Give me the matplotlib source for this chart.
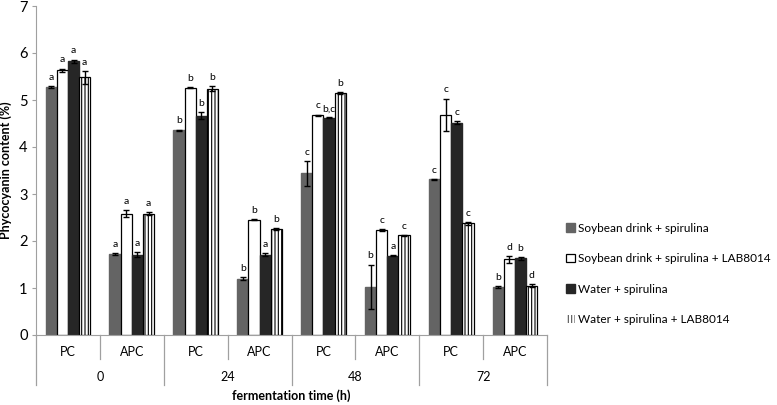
import matplotlib
matplotlib.use("Agg")
import matplotlib.pyplot as plt
import numpy as np
from matplotlib.patches import Patch

plt.rcParams['font.family'] = ['Lato', 'DejaVu Sans']
plt.rcParams['hatch.linewidth'] = 0.8

sub_labels = ['PC', 'APC', 'PC', 'APC', 'PC', 'APC', 'PC', 'APC']
time_labels = ['0', '24', '48', '72']
series_names = ['Soybean drink + spirulina',
                'Soybean drink + spirulina + LAB8014',
                'Water + spirulina',
                'Water + spirulina + LAB8014']

sdk = [5.27, 1.72, 4.36, 1.20, 3.44, 1.03, 3.31, 1.02]
sdk_err = [0.02, 0.02, 0.01, 0.03, 0.26, 0.47, 0.01, 0.02]
sdk_lab = ['a', 'a', 'b', 'b', 'c', 'b', 'c', 'b']
sdl = [5.63, 2.58, 5.26, 2.45, 4.68, 2.23, 4.69, 1.61]
sdl_err = [0.04, 0.07, 0.01, 0.01, 0.01, 0.02, 0.34, 0.07]
sdl_lab = ['a', 'a', 'b', 'b', 'c', 'c', 'c', 'd']
ws = [5.82, 1.71, 4.67, 1.71, 4.62, 1.69, 4.52, 1.63]
ws_err = [0.04, 0.05, 0.08, 0.03, 0.01, 0.01, 0.04, 0.03]
ws_lab = ['a', 'a', 'b', 'a', 'b,c', 'a', 'c', 'b']
wsl = [5.48, 2.58, 5.24, 2.26, 5.14, 2.12, 2.38, 1.05]
wsl_err = [0.14, 0.03, 0.05, 0.02, 0.02, 0.01, 0.03, 0.03]
wsl_lab = ['a', 'a', 'b', 'b', 'b', 'c', 'c', 'd']

fig = plt.figure(figsize=(7.77, 4.05), dpi=100)
ax = fig.add_axes([36/777, 1-335/405, (547-36)/777, (335-6)/405])

x = np.arange(len(sub_labels))
w = 0.175
offsets = [-1.5*w, -0.5*w, 0.5*w, 1.5*w]
styles = [dict(color='#646464', edgecolor='#646464'),
          dict(color='white', edgecolor='black', linewidth=0.9),
          dict(color='#262626', edgecolor='#262626'),
          dict(color='white', edgecolor='black', hatch='|||||', linewidth=0.9)]
vals = [sdk, sdl, ws, wsl]
errs = [sdk_err, sdl_err, ws_err, wsl_err]
labs = [sdk_lab, sdl_lab, ws_lab, wsl_lab]

for k in range(4):
    ax.bar(x + offsets[k], vals[k], w, yerr=errs[k], zorder=2,
           error_kw=dict(ecolor='black', elinewidth=1, capsize=2.2, capthick=1),
           **styles[k])
    for i in range(len(x)):
        ax.annotate(labs[k][i], (x[i] + offsets[k], vals[k][i] + errs[k][i]),
                    xytext=(0, 3), textcoords='offset points',
                    ha='center', va='bottom', fontsize=7.5)

ax.set_xlim(-0.5, len(x) - 0.5)
ax.set_ylim(0, 7)
ax.set_yticks(range(0, 8))
ax.tick_params(axis='y', length=3, color='#a0a0a0', labelsize=10.5, pad=3)
ax.set_xticks([])
for s in ['top', 'right']:
    ax.spines[s].set_visible(False)
ax.spines['left'].set_color('#a0a0a0')
ax.spines['bottom'].set_color('#a0a0a0')
ax.set_ylabel('Phycocyanin content (%)', fontsize=9, fontweight='bold')
ax.yaxis.set_label_coords(-(36 - 12) / (547 - 36), 0.5)

# Multi-level category axis
tr = ax.get_xaxis_transform()
def yfrac(py):
    return -(py - 335) / (335 - 6)

for i, lab in enumerate(sub_labels):
    ax.text(x[i], yfrac(352), lab, transform=tr, ha='center', va='center', fontsize=9)
for g, lab in enumerate(time_labels):
    ax.text(2*g + 0.5, yfrac(377), lab, transform=tr, ha='center', va='center', fontsize=9)
for b in np.arange(-0.5, len(x), 1.0):
    if int(round(b + 0.5)) % 2 == 0:
        ax.plot([b, b], [0, yfrac(385)], transform=tr, color='#a0a0a0', lw=0.9, clip_on=False)
    else:
        ax.plot([b, b], [0, yfrac(359)], transform=tr, color='#a0a0a0', lw=0.9, clip_on=False)
ax.text(len(x)/2 - 0.5, yfrac(396), 'fermentation time (h)', transform=tr,
        ha='center', va='center', fontsize=9, fontweight='bold')

handles = [Patch(facecolor='#646464', edgecolor='#646464'),
           Patch(facecolor='white', edgecolor='black', linewidth=0.9),
           Patch(facecolor='#262626', edgecolor='#262626'),
           Patch(facecolor='white', edgecolor='#555555', hatch='|||||', linewidth=0)]
fig.legend(handles, series_names, loc='center left', bbox_to_anchor=(566/777, 1-274/405),
           frameon=False, fontsize=8.5, handlelength=0.75, handleheight=0.75,
           handletextpad=0.3, labelspacing=1.65, borderaxespad=0, borderpad=0)

fig.savefig('out.png', dpi=100)
